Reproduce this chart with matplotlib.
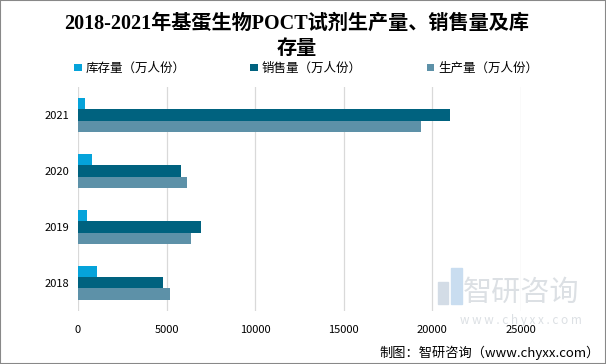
import numpy as np
import matplotlib.pyplot as plt
from matplotlib.patches import Rectangle

plt.rcParams['font.family'] = ['Noto Sans CJK SC', 'DejaVu Sans']

years = ["2018", "2019", "2020", "2021"]
stock = [1070, 520, 800, 400]        # 库存量（万人份）
sales = [4820, 6960, 5820, 21000]    # 销售量（万人份）
output = [5210, 6350, 6170, 19380]   # 生产量（万人份）
series_names = ["库存量（万人份）", "销售量（万人份）", "生产量（万人份）"]
colors = ["#05A3DA", "#00627F", "#5D91A8"]
x_ticks = [0, 5000, 10000, 15000, 20000, 25000]

fig = plt.figure(figsize=(6.06, 3.64), dpi=100)
ax = fig.add_axes([0.1287, 0.146, 0.731, 0.615])

y = np.arange(len(years))
h = 0.2
ax.barh(y + h, stock, height=h, color=colors[0], label=series_names[0], zorder=3)
ax.barh(y, sales, height=h, color=colors[1], label=series_names[1], zorder=3)
ax.barh(y - h, output, height=h, color=colors[2], label=series_names[2], zorder=3)

ax.set_xlim(0, 25000)
ax.set_ylim(-0.5, 3.5)
ax.set_xticks(x_ticks)
ax.set_xticklabels([str(t) for t in x_ticks], fontsize=8)
ax.set_yticks(y)
ax.set_yticklabels(years, fontsize=8)
ax.tick_params(length=0, pad=6)
ax.tick_params(axis='x', pad=10)
for s in ax.spines.values():
    s.set_visible(False)
ax.grid(axis='x', color='#D9D9D9', linewidth=0.9, zorder=0)

# title
title_font = ['Liberation Serif', 'Noto Sans CJK SC']
fig.text(0.49, 0.935, "2018-2021年基蛋生物POCT试剂生产量、销售量及库",
         ha='center', va='center', fontsize=14.5, fontweight='bold',
         family=title_font)
fig.text(0.49, 0.865, "存量", ha='center', va='center', fontsize=14.5,
         fontweight='bold', family=title_font)

# legend
leg = fig.legend(loc='center', bbox_to_anchor=(0.505, 0.812), ncol=3,
                 frameon=False, fontsize=9, handlelength=0.6, handleheight=0.6,
                 columnspacing=5.2, handletextpad=0.3)

# watermark
fig.patches.append(Rectangle((0.722, 0.165), 0.018, 0.06, transform=fig.transFigure,
                             color='#D3DCE6', zorder=0))
fig.patches.append(Rectangle((0.745, 0.165), 0.018, 0.1, transform=fig.transFigure,
                             color='#C9DDF0', zorder=0))
fig.text(0.86, 0.195, "智研咨询", ha='center', va='center', fontsize=21,
         color='#DCE0E4', zorder=0)
fig.text(0.86, 0.12, "w w w . c h y x x . c o m", ha='center', va='center',
         fontsize=8.5, color='#DCE0E4', zorder=0)
fig.text(0.99, 0.032, "制图：智研咨询（www.chyxx.com）", ha='right', va='center',
         fontsize=9.5)

fig.patches.append(Rectangle((0, 0), 1, 1, transform=fig.transFigure,
                             fill=False, edgecolor='#888888', linewidth=1.5))

plt.savefig("out.png", dpi=100)
